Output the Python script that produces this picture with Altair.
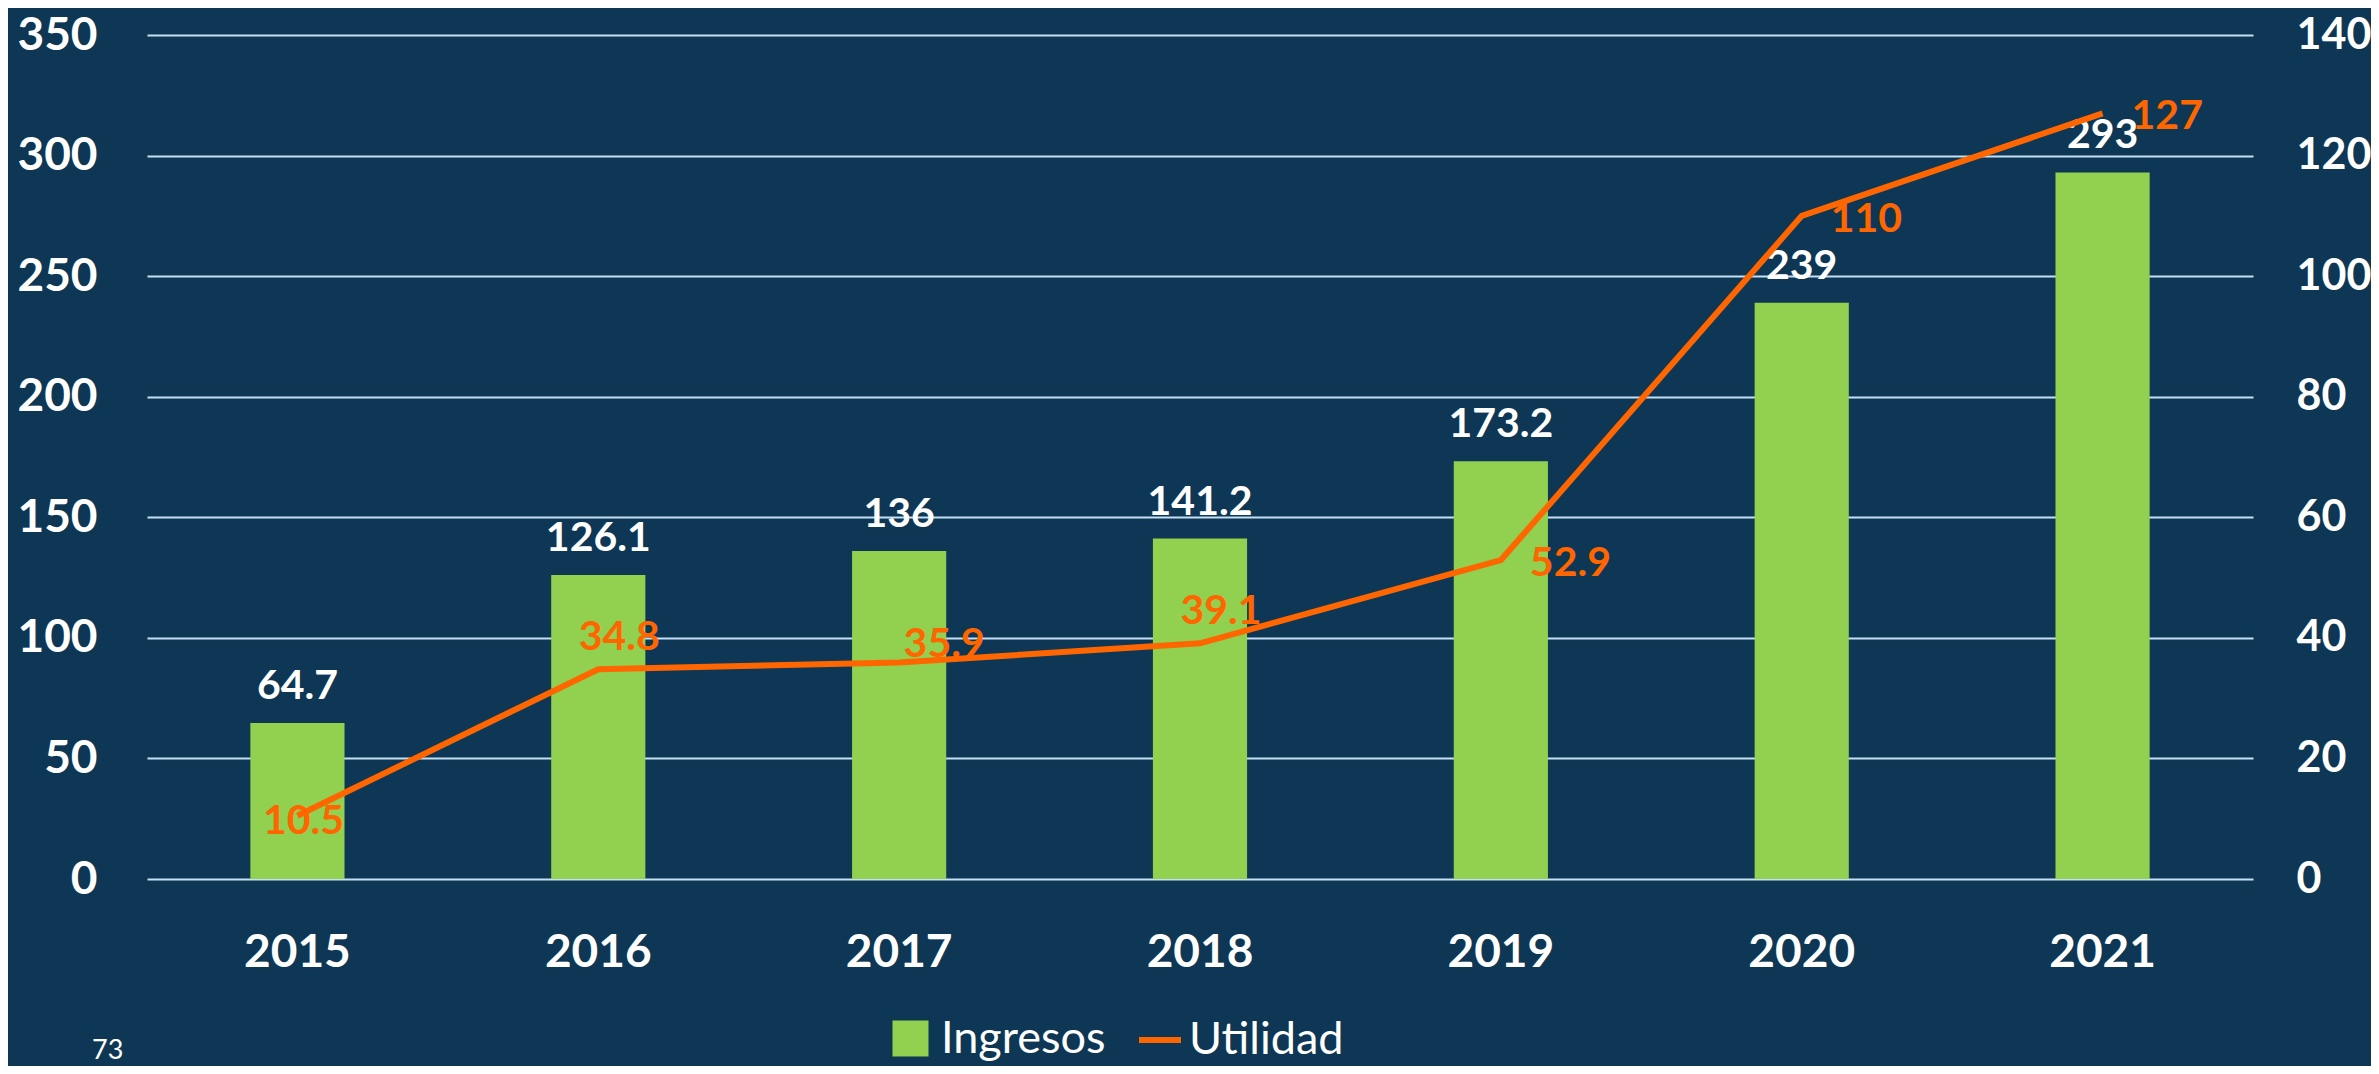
import altair as alt
import pandas as pd

years = ["2015", "2016", "2017", "2018", "2019", "2020", "2021"]
ingresos = [64.7, 126.1, 136, 141.2, 173.2, 239, 293]
utilidad = [10.5, 34.8, 35.9, 39.1, 52.9, 110, 127]
ingresos_lbl = ["64.7", "126.1", "136", "141.2", "173.2", "239", "293"]
utilidad_lbl = ["10.5", "34.8", "35.9", "39.1", "52.9", "110", "127"]
left_ticks = [0, 50, 100, 150, 200, 250, 300, 350]
right_ticks = [0, 20, 40, 60, 80, 100, 120, 140]

df = pd.DataFrame({
    "year": years,
    "ingresos": ingresos,
    "utilidad": utilidad,
    "ing_lbl": ingresos_lbl,
    "uti_lbl": utilidad_lbl,
})

BG = "#0D3754"
GREEN = "#92D050"
ORANGE = "#FF6600"
GRID = "#C5E0F4"
FONT = "Lato"

x_enc = alt.X(
    "year:N", sort=years,
    scale=alt.Scale(paddingInner=0.687, paddingOuter=0.3435),
    axis=alt.Axis(title=None, labelAngle=0, labelFont=FONT, labelFontSize=46,
                  labelFontWeight="bold", labelColor="white", labelPadding=51,
                  ticks=False, tickSize=0, domain=False, grid=False),
)

yl_enc = alt.Y(
    "ingresos:Q", scale=alt.Scale(domain=[0, 350], nice=False, zero=True),
    axis=alt.Axis(title=None, orient="left", values=left_ticks,
                  labelFont=FONT, labelFontSize=46, labelFontWeight="bold",
                  labelColor="white", labelPadding=50, ticks=False, tickSize=0,
                  domain=False, grid=True, gridColor=GRID, gridWidth=2),
)

yr_enc = alt.Y(
    "utilidad:Q", scale=alt.Scale(domain=[0, 140], nice=False, zero=True),
    axis=alt.Axis(title=None, orient="right", values=right_ticks,
                  labelFont=FONT, labelFontSize=43, labelFontWeight="bold",
                  labelColor="white", labelPadding=43, ticks=False, tickSize=0,
                  domain=False, grid=False),
)

base = alt.Chart(df)

bars = base.transform_calculate(serie='"Ingresos"').mark_bar().encode(
    x=x_enc,
    y=yl_enc,
    fill=alt.Fill("serie:N", scale=alt.Scale(domain=["Ingresos"], range=[GREEN]),
                  legend=alt.Legend(title=None, orient="none", legendX=741, legendY=981,
                                    symbolType="square", symbolSize=1296,
                                    symbolStrokeWidth=0, labelFont=FONT,
                                    labelFontSize=45, labelColor="white",
                                    labelOffset=8, labelLimit=0, padding=0)),
)

bar_text = base.mark_text(font=FONT, fontSize=41, fontWeight="bold", color="white",
                          baseline="alphabetic", dy=-24).encode(
    x=x_enc,
    y=yl_enc,
    text="ing_lbl:N",
)

left = alt.layer(bars, bar_text)

line = base.transform_calculate(serie='"Utilidad"').mark_line(strokeWidth=6).encode(
    x=x_enc,
    y=yr_enc,
    stroke=alt.Stroke("serie:N", scale=alt.Scale(domain=["Utilidad"], range=[ORANGE]),
                      legend=alt.Legend(title=None, orient="none", legendX=989, legendY=981,
                                        symbolType="stroke", symbolSize=1764,
                                        symbolStrokeWidth=6, labelFont=FONT,
                                        labelFontSize=45, labelColor="white",
                                        labelOffset=5, labelLimit=0, padding=0)),
)


def uti_label(sel, align, dx, dy):
    return base.transform_filter(
        alt.FieldOneOfPredicate(field="year", oneOf=sel)
    ).mark_text(font=FONT, fontSize=41, fontWeight="bold", color=ORANGE,
                align=align, baseline="middle", dx=dx, dy=dy).encode(
        x=x_enc,
        y=yr_enc,
        text="uti_lbl:N",
    )


right = alt.layer(
    line,
    uti_label(["2015"], "center", 6, 6),
    uti_label(["2016", "2018"], "center", 21, -31),
    uti_label(["2017"], "center", 45, -18),
    uti_label(["2019", "2020", "2021"], "left", 29, 4),
)

note = alt.Chart(pd.DataFrame({"t": ["73"]})).mark_text(
    font=FONT, fontSize=27, color="white", align="left", baseline="top"
).encode(x=alt.value(-55), y=alt.value(1003), text="t:N")

chart = alt.layer(left, right, note).resolve_scale(
    y="independent", fill="independent", stroke="independent"
).properties(
    width=2106, height=844,
    padding={"left": 139, "top": 27, "right": 118, "bottom": 187},
    autosize=alt.AutoSizeParams(type="none"),
    background=BG,
).configure_view(stroke=None)

chart.save("out.html", embed_options={"renderer": "svg", "actions": False})
